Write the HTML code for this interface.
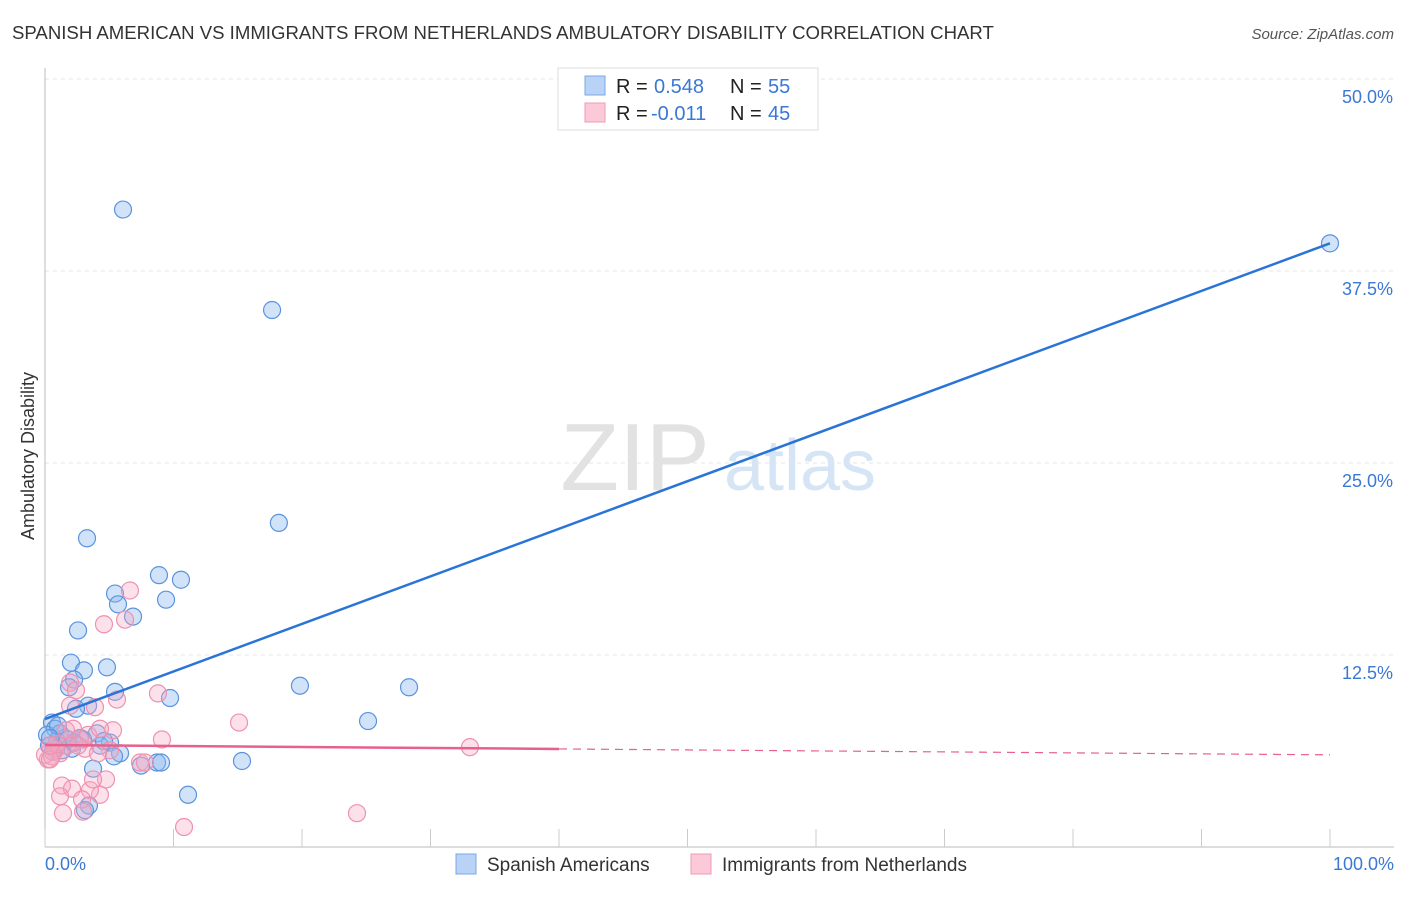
<!DOCTYPE html>
<html><head><meta charset="utf-8"><style>
body{margin:0;background:#fff;font-family:"Liberation Sans",sans-serif;}
svg text{font-family:"Liberation Sans",sans-serif;}
</style></head><body>
<svg id="chart" width="1406" height="892" viewBox="0 0 1406 892">
<text x="12" y="39" font-size="18.6" fill="#333">SPANISH AMERICAN VS IMMIGRANTS FROM NETHERLANDS AMBULATORY DISABILITY CORRELATION CHART</text>
<text x="1394" y="39" font-size="15" fill="#555" font-style="italic" text-anchor="end">Source: ZipAtlas.com</text>
<g>
<text x="635" y="490" font-size="96" fill="#e2e2e2" font-family="Liberation Serif" text-anchor="middle">ZIP</text>
<text x="800" y="490" font-size="72" fill="#d6e5f5" text-anchor="middle">atlas</text>
</g>
<g id="grid"></g>
<g id="axes"></g>
<g id="points"></g>
<g id="lines"></g>
<text transform="translate(34,456) rotate(-90)" font-size="18" fill="#333" text-anchor="middle">Ambulatory Disability</text>
<text x="45" y="870" font-size="18" fill="#3a78d4">0.0%</text>
<text x="1394" y="870" font-size="18" fill="#3a78d4" text-anchor="end">100.0%</text>
<g>
<rect x="558" y="68" width="260" height="62" fill="#fff" stroke="#ddd"/>
<rect x="585" y="76" width="20" height="19" fill="#b8d3f5" stroke="#7aa7e6"/>
<rect x="585" y="103" width="20" height="19" fill="#fbc9d8" stroke="#f09ab5"/>
<text x="616" y="93" font-size="20" fill="#222">R = <tspan x="654" fill="#3a78d4">0.548</tspan><tspan x="730">N = </tspan><tspan x="768" fill="#3a78d4">55</tspan></text>
<text x="616" y="120" font-size="20" fill="#222">R = <tspan x="651" fill="#3a78d4">-0.011</tspan><tspan x="730">N = </tspan><tspan x="768" fill="#3a78d4">45</tspan></text>
</g>
<g>
<rect x="456" y="854" width="20" height="20" fill="#b8d3f5" stroke="#7aa7e6"/>
<text x="487" y="871" font-size="19" fill="#333">Spanish Americans</text>
<rect x="691" y="854" width="20" height="20" fill="#fbc9d8" stroke="#f09ab5"/>
<text x="722" y="871" font-size="19" fill="#333">Immigrants from Netherlands</text>
</g>
</svg>
<script>
const yTicks=[12.5,25,37.5,50];
const yTickLabels=["12.5%","25.0%","37.5%","50.0%"];
const xTicks=[0,10,20,30,40,50,60,70,80,90,100];
const blueX=[6.07,17.67,100,18.2,3.27,8.87,10.58,5.45,9.42,5.68,6.85,2.57,2.02,4.82,3.03,2.26,1.87,5.45,9.73,19.84,28.33,3.35,2.41,0.54,25.14,0.78,1.17,4.05,5.06,4.28,0.93,1.56,0.31,2.1,1.32,0.62,2.96,5.84,5.37,3.74,7.47,8.72,9.03,15.33,11.13,3.42,3.11,0.16,1.01,2.72,1.79,4.59,0.86,0.39,2.26];
const blueY=[41.5,34.96,39.3,21.1,20.1,17.7,17.4,16.5,16.1,15.8,15.0,14.1,12.0,11.7,11.5,10.9,10.4,10.1,9.7,10.5,10.4,9.2,9.0,8.1,8.2,7.7,7.4,7.4,6.8,6.6,6.9,7.1,6.6,6.4,6.3,6.2,7.0,6.1,5.9,5.1,5.3,5.5,5.5,5.6,3.4,2.7,2.4,7.3,7.9,7.1,7.0,6.9,6.4,7.1,6.8];
const pinkX=[6.61,4.59,6.23,8.79,5.6,1.95,2.41,3.89,1.95,5.29,15.1,9.1,33.07,0.78,0.23,1.17,0.54,2.72,2.18,3.11,5.06,7.39,1.32,2.1,1.17,4.28,3.5,2.88,2.96,1.4,10.82,24.28,4.75,3.74,0,1.71,0.93,4.12,3.35,1.63,0.39,2.57,4.28,7.78,0.39];
const pinkY=[16.7,14.5,14.8,10.0,9.6,10.7,10.2,9.1,9.2,7.6,8.1,7.0,6.5,6.3,5.7,6.1,5.9,7.0,7.7,6.4,6.3,5.5,4.0,3.8,3.3,3.4,3.7,3.1,2.3,2.2,1.3,2.2,4.4,4.4,6.0,6.6,6.7,6.1,7.3,7.6,5.7,6.6,7.7,5.5,6.6];
const blueTrend=[8.33,39.3];
const pinkTrend=[6.64,6.0];
const pinkSolidEnd=40;

const X=v=>45+v*12.85, Y=v=>847-v*15.36;
const NS="http://www.w3.org/2000/svg";
function mk(tag,attrs,parent){const e=document.createElementNS(NS,tag);for(const k in attrs)e.setAttribute(k,attrs[k]);document.getElementById(parent).appendChild(e);return e;}
yTicks.forEach((t,i)=>{
  const g=mk('line',{x1:45,x2:1394,y1:Y(t),y2:Y(t),stroke:'#e4e4e4','stroke-width':1,'stroke-dasharray':'4,4'},'grid');
  
  
  const l=mk('text',{x:1393,y:Y(t)+24,'font-size':18,fill:'#3a78d4','text-anchor':'end'},'grid');
  l.textContent=yTickLabels[i];
  
  
});
const ax=mk('line',{x1:45,x2:45,y1:68,y2:847,stroke:'#bbb'},'axes');


const bx=mk('line',{x1:45,x2:1394,y1:847,y2:847,stroke:'#bbb'},'axes');


xTicks.forEach(t=>{
  const e=mk('line',{x1:X(t),x2:X(t),y1:829,y2:847,stroke:'#ccc'},'axes');
  
  
});
blueX.forEach((x,i)=>{
  const c=mk('circle',{cx:X(x),cy:Y(blueY[i]),r:8.5,fill:'rgba(140,185,240,0.4)',stroke:'#5b93dd','stroke-width':1.2},'points');
  
  
});
pinkX.forEach((x,i)=>{
  const c=mk('circle',{cx:X(x),cy:Y(pinkY[i]),r:8.5,fill:'rgba(247,170,195,0.35)',stroke:'#ee92b0','stroke-width':1.2},'points');
  
  
});
const bl=mk('line',{x1:X(0),y1:Y(blueTrend[0]),x2:X(100),y2:Y(blueTrend[1]),stroke:'#2a74d8','stroke-width':2.5},'lines');


const pAt=v=>pinkTrend[0]+(pinkTrend[1]-pinkTrend[0])*v/100;
const pl=mk('line',{x1:X(0),y1:Y(pAt(0)),x2:X(pinkSolidEnd),y2:Y(pAt(pinkSolidEnd)),stroke:'#e8608c','stroke-width':2.5},'lines');


const pd=mk('line',{x1:X(pinkSolidEnd),y1:Y(pAt(pinkSolidEnd)),x2:X(100),y2:Y(pAt(100)),stroke:'#e8608c','stroke-width':1.2,'stroke-dasharray':'8,6'},'lines');


</script>
</body></html>
